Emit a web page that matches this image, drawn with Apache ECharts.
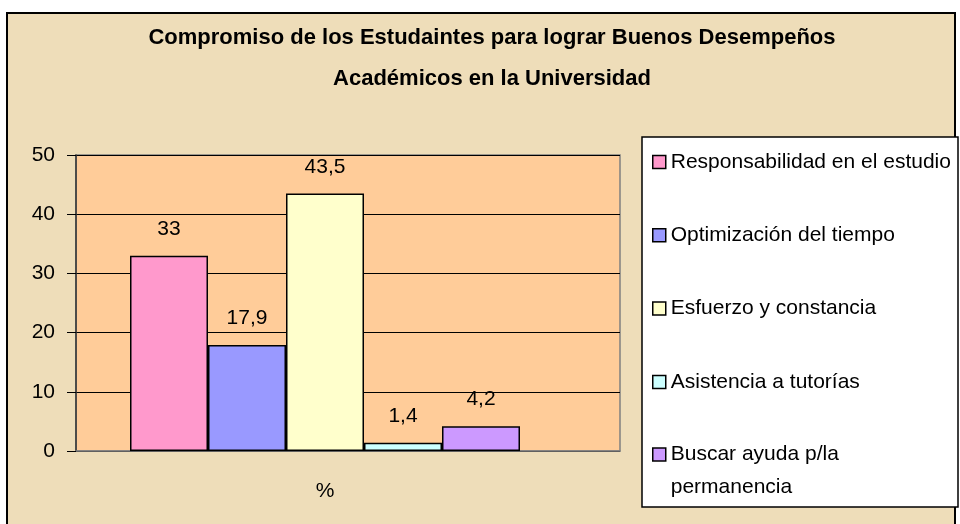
<!DOCTYPE html>
<html>
<head>
<meta charset="utf-8">
<script src="https://cdn.jsdelivr.net/npm/echarts@6/dist/echarts.min.js"></script>
<style>
  html, body { margin: 0; padding: 0; background: #fff; }
  #chart { width: 960px; height: 524px; }
</style>
</head>
<body>
<div id="chart"></div>
<script>
var titleText = 'Compromiso de los Estudaintes para lograr Buenos Desempeños\nAcadémicos en la Universidad';
var categories = ['%'];
var seriesNames = ['Responsabilidad en el estudio', 'Optimización del tiempo', 'Esfuerzo y constancia', 'Asistencia a tutorías', 'Buscar ayuda p/la permanencia'];
var seriesValues = [33, 17.9, 43.5, 1.4, 4.2];
var seriesColors = ['#FF99CC', '#9999FF', '#FFFFCC', '#CCFFFF', '#CC99FF'];
var yTicks = [0, 10, 20, 30, 40, 50];

var font = "'Liberation Sans', Arial, sans-serif";
var chart = echarts.init(document.getElementById('chart'));

var series = seriesNames.map(function(name, i) {
    return {
        name: name,
        type: 'bar',
        xAxisIndex: 1,
        yAxisIndex: 1,
        barWidth: 78,
        barGap: '0%',
        data: [seriesValues[i]],
        itemStyle: { color: seriesColors[i], borderColor: '#000', borderWidth: 1.5 },
        label: {
            show: true,
            position: 'top',
            distance: 16,
            color: '#000',
            fontFamily: font,
            fontSize: 21,
            formatter: function(p) { return String(p.value).replace('.', ','); }
        }
    };
});

function legendOpts(extra) {
    var base = {
        orient: 'vertical',
        left: 647,
        icon: 'rect',
        itemWidth: 13,
        itemHeight: 13,
        itemStyle: { borderColor: '#000', borderWidth: 1.5 },
        selectedMode: false,
        textStyle: { color: '#000', fontFamily: font, fontSize: 21, lineHeight: 22 }
    };
    return echarts.util.merge(base, extra, true);
}

var option = {
    backgroundColor: '#fff',
    animation: false,
    title: {
        text: titleText,
        left: 487,
        top: 12,
        textAlign: 'center',
        textStyle: { color: '#000', fontFamily: font, fontSize: 22, fontWeight: 'bold', lineHeight: 41 }
    },
    graphic: [
        {
            type: 'rect', z: -10,
            shape: { x: 7, y: 13, width: 948, height: 530 },
            style: { fill: '#EEDDB9', stroke: '#000', lineWidth: 2 }
        },
        {
            type: 'rect', z: 0,
            shape: { x: 642, y: 137, width: 316, height: 370 },
            style: { fill: '#fff', stroke: '#000', lineWidth: 1.5 }
        }
    ],
    legend: [
        legendOpts({ top: 146, itemGap: 51.3, data: seriesNames.slice(0, 4) }),
        legendOpts({
            top: 400,
            data: [seriesNames[4]],
            textStyle: { lineHeight: 33 },
            // blank first line keeps the swatch level with the first text line
            formatter: function(n) { return ' \n' + n.replace(' p/la ', ' p/la\n'); }
        })
    ],
    grid: [
        { left: 76, top: 155, width: 544, height: 296, show: true, backgroundColor: '#FFCC99', borderColor: '#808080', borderWidth: 1.5 },
        { left: 76, top: 155, width: 498, height: 296 }
    ],
    xAxis: [
        {
            type: 'category', gridIndex: 0, data: categories,
            axisLine: { lineStyle: { color: '#808080', width: 1.5 } },
            axisTick: { show: false },
            axisLabel: { show: false }
        },
        {
            type: 'category', gridIndex: 1, data: categories,
            axisLine: { show: false },
            axisTick: { show: false },
            axisLabel: { color: '#000', fontFamily: font, fontSize: 21, margin: 30 }
        }
    ],
    yAxis: [
        {
            type: 'value', gridIndex: 0,
            min: yTicks[0], max: yTicks[yTicks.length - 1], interval: 10,
            axisLine: { show: true, lineStyle: { color: '#333', width: 1.5 } },
            axisTick: { show: true, length: 9, lineStyle: { color: '#000' } },
            axisLabel: { color: '#000', fontFamily: font, fontSize: 21, margin: 21 },
            splitLine: { show: true, lineStyle: { color: '#000', width: 1 } }
        },
        {
            type: 'value', gridIndex: 1,
            min: yTicks[0], max: yTicks[yTicks.length - 1], interval: 10,
            show: false
        }
    ],
    series: series
};

chart.setOption(option);
</script>
</body>
</html>
